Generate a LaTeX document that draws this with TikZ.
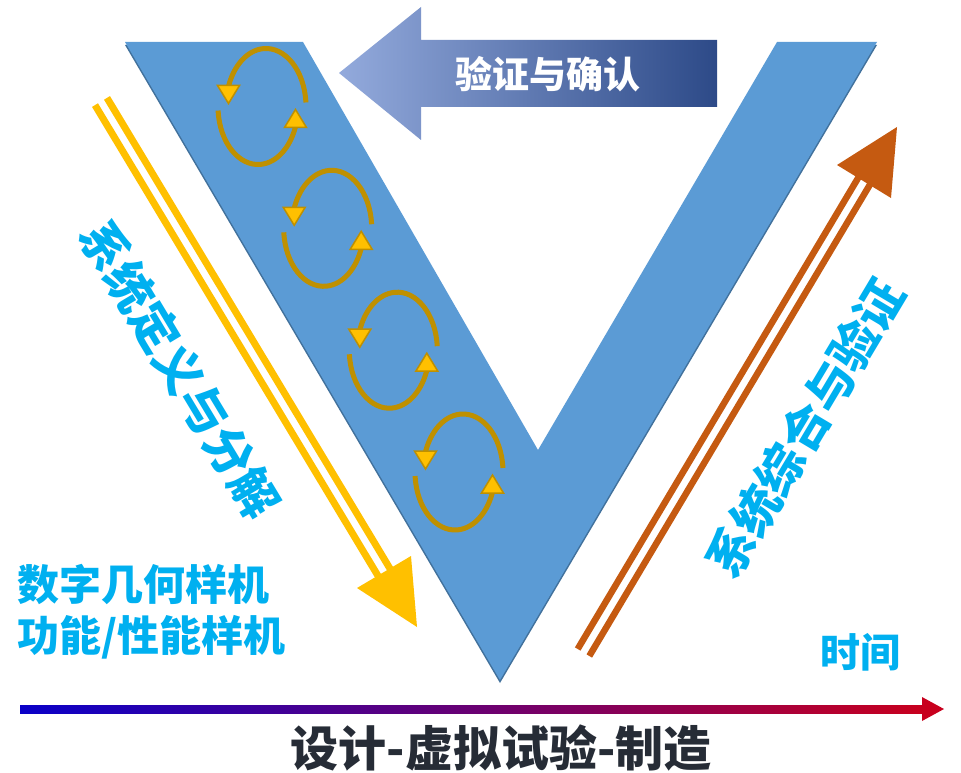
\documentclass[tikz,border=0pt]{standalone}
\usepackage{fontspec}
\newfontfamily\cjk{Noto Sans CJK SC}
\usetikzlibrary{calc}
\definecolor{vblue}{HTML}{5B9BD5}
\definecolor{vedge}{HTML}{41719C}
\definecolor{gold}{HTML}{BF9000}
\definecolor{amber}{HTML}{FFC000}
\definecolor{rust}{HTML}{C55A11}
\definecolor{cyantext}{HTML}{00B0F0}
\definecolor{darktext}{HTML}{262C36}
\definecolor{arrlight}{HTML}{93AADC}
\definecolor{arrmid}{HTML}{4A72C4}
\definecolor{arrdark}{HTML}{2D4A88}
\definecolor{axblue}{HTML}{0A00C8}
\definecolor{axmid}{HTML}{80009A}
\definecolor{axred}{HTML}{C8001E}
\tikzset{
  cycline/.style={draw=gold, line width=5pt},
  cychead/.style={draw=gold, fill=amber, line width=1.5pt, line join=miter},
  cyc/.pic={
    \draw[cycline] (4,0) ++(-4:40 and 58) arc[start angle=-4, end angle=-162, x radius=40, y radius=58];
    \draw[cychead] (-44.5,-21) -- (-22.5,-21) -- (-33.5,-3) -- cycle;
    \draw[cycline] (-4,0) ++(176:40 and 58) arc[start angle=176, end angle=18, x radius=40, y radius=58];
    \draw[cychead] (44.5,21) -- (22.5,21) -- (33.5,3) -- cycle;
  },
  bluelabel/.style={text=cyantext, inner sep=0pt, font=\cjk\bfseries\fontsize{#1}{#1}\selectfont},
  yline/.style={draw=amber, line width=7pt},
  oline/.style={draw=rust, line width=6.5pt},
}
\begin{document}
\begin{tikzpicture}[x=1pt, y=-1pt]
\useasboundingbox (0,0) rectangle (961,773);
\fill[white] (0,0) rectangle (961,773);

% V shape with shadow
\fill[vedge, shift={(0,3)}] (125,42) -- (303,42) -- (538,450) -- (777,42) -- (877,42) -- (500,680) -- cycle;
\fill[vblue] (125,42) -- (303,42) -- (538,450) -- (777,42) -- (877,42) -- (500,680) -- cycle;

% iteration cycles
\pic at (262,106.5) {cyc};
\pic at (327.7,228.3) {cyc};
\pic at (393.3,350.2) {cyc};
\pic at (459,472) {cyc};

% top arrow
\shade[left color=arrlight, middle color=arrmid, right color=arrdark]
  (339,73) -- (421,7) -- (421,40) -- (717,40) -- (717,107) -- (421,107) -- (421,140) -- cycle;
\node[inner sep=0pt, text=white, font=\cjk\bfseries\fontsize{37}{37}\selectfont] (vv) at (548,74.5) {验证与确认};

% yellow double arrow
\coordinate (ya1) at (95,105.1);
\coordinate (ya2) at (107,97.9);
\coordinate (yb1) at (382,582.5);
\coordinate (yb2) at (394,575.3);
\draw[yline] (ya1) -- (yb1);
\draw[yline] (ya2) -- (yb2);
\fill[amber] (417,627) -- (357,588) -- (411,556) -- cycle;

% orange double arrow
\coordinate (oa1) at (577.7,649);
\coordinate (oa2) at (589.3,656);
\coordinate (ob1) at (862.2,171.1);
\coordinate (ob2) at (873.8,178.1);
\draw[oline] (oa1) -- (ob1);
\draw[oline] (oa2) -- (ob2);
\fill[rust] (897,127) -- (837,165) -- (891,198) -- cycle;

% rotated labels
\node[bluelabel=48, rotate=-59] (defn) at (180,369) {系统定义与分解};
\node[bluelabel=48, rotate=59.2] (integ) at (805,428) {系统综合与验证};

% left labels
\node[bluelabel=42, anchor=west] (proto1) at (17,584) {数字几何样机};
\node[bluelabel=42, anchor=west] (proto2) at (17,637.5) {功能/性能样机};

% time
\node[bluelabel=40] (time) at (860,652) {时间};

% time axis
\shade[left color=axblue, middle color=axmid, right color=axred] (20,705) rectangle (924,713);
\fill[axred] (922,697) -- (944,709) -- (922,721) -- cycle;
\node[inner sep=0pt, text=darktext, font=\cjk\bfseries\fontsize{48}{48}\selectfont] (flow) at (501,748) {设计-虚拟试验-制造};
\end{tikzpicture}
\end{document}
